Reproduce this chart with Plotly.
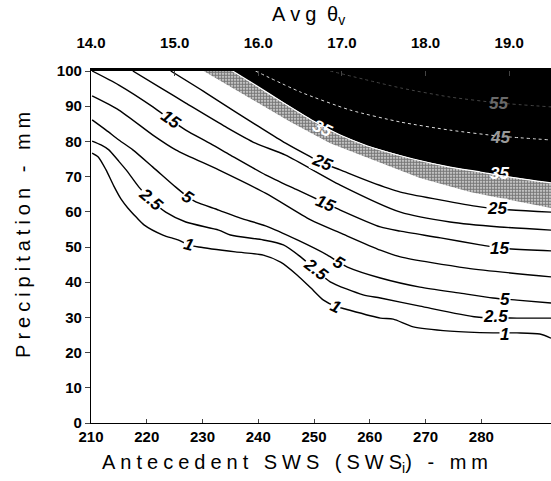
import plotly.graph_objects as go

# ---- data (SWS in mm, precipitation in mm) ----
X_MIN, X_MAX = 210.0, 292.5
Y_MIN, Y_MAX = 0.0, 100.0

sws_1 = [210.2, 211.3, 212.7, 214.1, 215.4, 216.6, 218.1, 219.5, 222.9, 225.6, 227.5, 229.3, 235.9, 240.9,
         244.0, 247.0, 249.4, 251.7, 253.8, 255.6, 261.9, 264.2, 267.8, 274.4, 282.1, 286.4, 290.5, 292.5]
p_1 = [76.7, 75.6, 71.9, 67.3, 63.6, 61.1, 58.5, 56.3, 53.4, 52.0, 50.6, 50.0, 48.6, 47.7,
       45.7, 42.0, 38.4, 34.9, 33.2, 32.4, 29.8, 29.5, 27.3, 26.1, 25.6, 25.6, 25.3, 24.1]

sws_2_5 = [210.2, 211.8, 213.2, 214.8, 216.3, 218.6, 220.7, 223.4, 227.0, 232.9, 235.0, 240.9, 244.5,
           247.6, 250.3, 252.9, 258.8, 261.9, 269.0, 279.2, 286.4, 292.5]
p_2_5 = [80.1, 79.0, 77.6, 74.7, 71.9, 67.0, 63.4, 59.9, 57.1, 54.8, 53.4, 52.0, 50.6,
         47.2, 43.5, 40.1, 36.4, 35.5, 33.2, 30.1, 29.8, 29.8]

sws_5 = [210.2, 212.7, 215.0, 217.5, 221.1, 225.2, 227.4, 228.8, 232.9, 236.8, 241.3, 247.0, 252.4,
         254.4, 256.0, 261.9, 269.0, 276.2, 282.1, 286.4, 292.5]
p_5 = [86.1, 83.2, 80.4, 77.6, 72.7, 67.0, 64.2, 62.8, 60.5, 58.2, 56.0, 52.0, 47.7,
       45.7, 44.3, 41.2, 38.6, 36.9, 35.5, 34.9, 34.1]

sws_10 = [210.2, 215.0, 221.1, 225.2, 232.9, 241.3, 249.4, 254.7, 261.9, 265.5, 277.4, 292.5]
p_10 = [92.9, 88.9, 81.8, 77.6, 71.9, 65.3, 57.7, 54.0, 49.1, 47.2, 44.0, 41.5]

sws_15 = [210.2, 215.0, 221.1, 224.3, 227.0, 231.5, 235.0, 241.3, 247.0, 252.0, 254.7, 261.9, 265.5,
          272.7, 279.8, 283.3, 292.5]
p_15 = [100.0, 96.0, 89.8, 86.1, 83.2, 79.3, 76.1, 70.5, 66.2, 62.5, 60.5, 55.7, 54.5,
        52.6, 50.6, 49.7, 48.9]

sws_20 = [217.5, 222.5, 227.0, 234.2, 239.5, 244.9, 254.7, 265.5, 274.4, 283.3, 292.5]
p_20 = [100.0, 95.2, 90.9, 84.1, 79.5, 76.1, 67.6, 59.9, 57.1, 55.7, 54.8]

sws_25 = [224.3, 230.6, 235.9, 239.9, 244.9, 249.4, 251.5, 254.7, 260.1, 265.5, 272.6, 279.8, 282.8, 292.5]
p_25 = [100.0, 93.8, 88.4, 84.4, 79.5, 75.6, 73.9, 71.9, 68.5, 65.6, 63.4, 61.4, 60.8, 59.9]

sws_30 = [230.2, 238.6, 245.8, 252.9, 261.9, 269.0, 278.0, 286.9, 292.5]
p_30 = [100.0, 92.3, 85.5, 79.5, 73.9, 69.6, 65.6, 62.8, 61.1]

sws_35 = [235.4, 239.5, 244.0, 249.9, 254.7, 259.6, 267.8, 274.4, 279.8, 283.3, 292.5]
p_35 = [100.0, 96.0, 91.5, 85.8, 81.8, 78.7, 75.0, 72.7, 71.3, 70.3, 68.2]

sws_45 = [239.5, 247.6, 256.5, 265.5, 274.4, 283.3, 292.5]
p_45 = [100.0, 94.0, 88.9, 85.5, 83.2, 81.5, 80.4]

sws_55 = [252.9, 265.5, 274.4, 283.3, 292.5]
p_55 = [100.0, 95.2, 92.6, 90.9, 89.8]

# contour labels
label_text = ["15", "2.5", "5", "1", "25", "15", "5", "2.5", "1",
              "25", "15", "5", "2.5", "1"]
label_sws = [224.3, 220.7, 227.4, 227.5, 251.5, 252.0, 254.4, 250.3, 253.8,
             282.8, 283.3, 284.2, 282.5, 284.2]
label_p = [86.1, 63.4, 64.2, 50.6, 73.9, 62.5, 45.7, 43.5, 33.2,
           60.8, 49.7, 35.2, 30.3, 25.1]
label_angle = [35, 40, 33, 15, 22, 22, 30, 38, 25, 0, 0, 0, 0, 0]

dark_text = ["35", "35", "45", "55"]
dark_sws = [251.5, 283.3, 283.3, 283.0]
dark_p = [83.8, 71.0, 81.2, 90.9]
dark_angle = [25, 0, 0, 0]
dark_color = ["white", "white", "#9a9a9a", "#6a6a6a"]

theta_ticks = [14.0, 15.0, 16.0, 17.0, 18.0, 19.0]
sws_ticks = [210, 220, 230, 240, 250, 260, 270, 280]
p_ticks = [0, 10, 20, 30, 40, 50, 60, 70, 80, 90, 100]

FONT = "Liberation Sans"
fig = go.Figure()

# black region above 35
fig.add_trace(go.Scatter(
    x=sws_35 + [X_MAX, sws_35[0]], y=p_35 + [Y_MAX, Y_MAX],
    fill="toself", fillcolor="black", line=dict(width=0), mode="lines", hoverinfo="skip"))

# stippled band 30-35
fig.add_trace(go.Scatter(
    x=sws_30 + sws_35[::-1], y=p_30 + p_35[::-1],
    fill="toself", fillcolor="#8a8a8a",
    fillpattern=dict(shape=".", size=3, solidity=0.7, fgcolor="#000000", bgcolor="#f0f0f0"),
    line=dict(width=0), mode="lines", hoverinfo="skip"))

for xs, ys in [(sws_1, p_1), (sws_2_5, p_2_5), (sws_5, p_5), (sws_10, p_10),
               (sws_15, p_15), (sws_20, p_20), (sws_25, p_25)]:
    fig.add_trace(go.Scatter(x=xs, y=ys, mode="lines", hoverinfo="skip",
                             line=dict(color="black", width=1.4, shape="spline", smoothing=0.7)))

fig.add_trace(go.Scatter(x=sws_35, y=p_35, mode="lines", hoverinfo="skip",
                         line=dict(color="white", width=1.2, shape="spline", smoothing=0.6)))
fig.add_trace(go.Scatter(x=sws_45, y=p_45, mode="lines", hoverinfo="skip",
                         line=dict(color="#dddddd", width=1, dash="dot", shape="spline", smoothing=0.6)))
fig.add_trace(go.Scatter(x=sws_55, y=p_55, mode="lines", hoverinfo="skip",
                         line=dict(color="#444444", width=1, dash="dot", shape="spline", smoothing=0.6)))

# trace carrying the top axis
fig.add_trace(go.Scatter(x=theta_ticks, y=[Y_MIN] * len(theta_ticks), xaxis="x2", mode="markers",
                         marker=dict(opacity=0), hoverinfo="skip"))

for t, x, y, a in zip(label_text, label_sws, label_p, label_angle):
    fig.add_annotation(x=x, y=y, text=t, showarrow=False, textangle=a, bgcolor="white",
                       borderpad=0, xanchor="center", yanchor="middle",
                       font=dict(family=FONT, size=17, color="black", weight="bold", style="italic"))
for t, x, y, a, c in zip(dark_text, dark_sws, dark_p, dark_angle, dark_color):
    fig.add_annotation(x=x, y=y, text=t, showarrow=False, textangle=a,
                       xanchor="center", yanchor="middle",
                       font=dict(family=FONT, size=17, color=c, weight="bold", style="italic"))

SP = "\u2005"
def spaced(s):
    return SP.join(s)

fig.add_annotation(xref="paper", yref="paper", x=0.443, y=-0.114, showarrow=False,
                   xanchor="center", yanchor="middle",
                   text=spaced("Antecedent SWS (SWS") + "<sub>i</sub>" + spaced(") - mm"),
                   font=dict(family=FONT, size=20, color="black"))
fig.add_annotation(xref="paper", yref="paper", x=-0.148, y=0.534, showarrow=False, textangle=-90,
                   xanchor="center", yanchor="middle",
                   text=spaced("Precipitation - mm"),
                   font=dict(family=FONT, size=20, color="black"))
fig.add_annotation(xref="paper", yref="paper", x=0.472, y=1.158, showarrow=False,
                   xanchor="center", yanchor="middle",
                   text=spaced("Avg ") + "θ<sub>v</sub>",
                   font=dict(family=FONT, size=20, color="black"))

fig.update_layout(
    width=551, height=481,
    margin=dict(l=91, r=0, t=71, b=58),
    plot_bgcolor="white", paper_bgcolor="white",
    showlegend=False,
    font=dict(family=FONT, color="black"),
    xaxis=dict(range=[X_MIN, X_MAX], tickvals=sws_ticks, ticks="inside", ticklen=4,
               showline=True, linecolor="black", linewidth=1.2, showgrid=False, zeroline=False,
               automargin=False,
               tickfont=dict(family=FONT, size=15, weight="bold")),
    xaxis2=dict(range=[X_MIN / 15, X_MAX / 15], overlaying="x", side="top", anchor="y",
                tickvals=theta_ticks, tickformat=".1f", ticks="inside", ticklen=5,
                ticklabelstandoff=14, automargin=False,
                showline=True, linecolor="black", linewidth=3, showgrid=False, zeroline=False,
                tickfont=dict(family=FONT, size=15, weight="bold")),
    yaxis=dict(range=[Y_MIN, Y_MAX], tickvals=p_ticks, ticks="outside", ticklen=5,
               showline=True, linecolor="black", linewidth=1.2, showgrid=False, zeroline=False,
               automargin=False,
               tickfont=dict(family=FONT, size=15, weight="bold")),
)

fig.write_html("out.html", config={"displayModeBar": False},
               post_script="document.body.style.margin='0';document.body.style.padding='0';")
